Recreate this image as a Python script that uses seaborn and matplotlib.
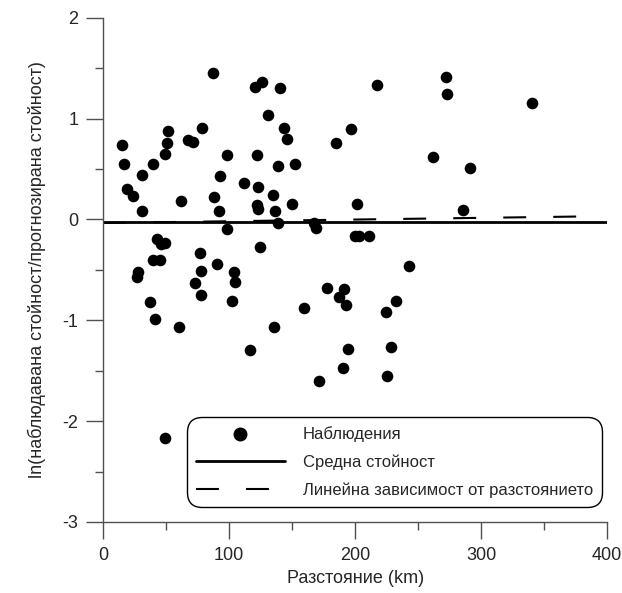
import numpy as np
import pandas as pd
import matplotlib
matplotlib.use("Agg")
import matplotlib.pyplot as plt
import seaborn as sns

# observed points: distance (km) and ln(observed/predicted)
dist = [14.6, 16.4, 18.6, 23.6, 30.5, 30.5, 39.5, 48.7, 50.6, 51.6,
        61.5, 67.3, 71.0, 78.6, 86.9, 98.5, 92.7, 87.7, 91.6, 98.5,
        111.5, 120.5, 125.8, 121.8, 122.6, 121.8, 122.6, 130.8, 134.5,
        140.6, 143.5, 145.7, 138.8, 152.5, 136.6, 149.6, 138.5, 167.0,
        169.0, 200.0, 202.9, 211.3, 184.8, 196.5, 217.4, 201.5,
        124.5, 242.6, 177.7, 190.9, 187.5, 192.8, 232.5, 224.5, 159.7,
        135.3, 194.4, 228.5, 190.6, 225.3, 171.6,
        42.4, 45.6, 49.0, 39.2, 44.8, 76.6, 90.5, 27.8, 26.5, 77.8,
        103.6, 104.6, 72.6, 77.8, 102.5, 37.3, 40.8, 60.4, 116.5, 49.0,
        272.0, 273.0, 262.0, 291.5, 285.6, 340.5]
ratio = [0.74, 0.545, 0.30, 0.235, 0.44, 0.083, 0.55, 0.65, 0.76, 0.88,
         0.18, 0.79, 0.77, 0.91, 1.45, 0.64, 0.43, 0.22, 0.086, -0.095,
         0.36, 1.31, 1.36, 0.64, 0.32, 0.14, 0.106, 1.04, 0.245,
         1.30, 0.91, 0.80, 0.53, 0.55, 0.086, 0.15, -0.036, -0.04,
         -0.09, -0.16, -0.16, -0.16, 0.76, 0.90, 1.335, 0.15,
         -0.27, -0.46, -0.68, -0.69, -0.77, -0.85, -0.81, -0.915, -0.88,
         -1.07, -1.28, -1.265, -1.47, -1.55, -1.60,
         -0.19, -0.245, -0.23, -0.40, -0.40, -0.33, -0.44, -0.52, -0.57, -0.515,
         -0.52, -0.62, -0.635, -0.75, -0.81, -0.82, -0.99, -1.07, -1.29, -2.17,
         1.41, 1.24, 0.62, 0.51, 0.095, 1.155]

# mean value line and linear trend with distance
mean_x = [0, 400]
mean_y = [-0.025, -0.025]
trend_x = [0, 385]
trend_y = [-0.035, 0.03]

sns.set_style("ticks")
plt.rcParams["font.family"] = ["Liberation Sans", "DejaVu Sans"]
plt.rcParams["axes.unicode_minus"] = False

fig = plt.figure(figsize=(6.22, 5.93), dpi=100)
ax = fig.add_axes([103.3 / 622, 1 - 522 / 593, (607 - 103.3) / 622, (522 - 17.7) / 593])

df = pd.DataFrame({"x": dist, "y": ratio})
sns.scatterplot(data=df, x="x", y="y", ax=ax, color="black", s=70,
                edgecolor="black", linewidth=0, label="Наблюдения", zorder=3)
sns.lineplot(x=mean_x, y=mean_y, ax=ax, color="black", lw=2,
             label="Средна стойност", zorder=2)
sns.lineplot(x=trend_x, y=trend_y, ax=ax, color="black", lw=1.5,
             linestyle=(0, (11, 13)), label="Линейна зависимост от разстоянието",
             zorder=2)

ax.set_xlim(0, 400)
ax.set_ylim(-3, 2)
ax.set_xticks([0, 100, 200, 300, 400])
ax.set_yticks([-3, -2, -1, 0, 1, 2])
ax.set_xticks(np.arange(50, 400, 100), minor=True)
ax.set_yticks(np.arange(-2.5, 2, 1), minor=True)
ax.tick_params(which="major", length=12, width=1, color="#505050",
               labelsize=13, pad=6)
ax.tick_params(which="minor", length=6, width=1, color="#505050")
for s in ["top", "right"]:
    ax.spines[s].set_visible(False)
for s in ["left", "bottom"]:
    ax.spines[s].set_color("#505050")
    ax.spines[s].set_linewidth(1)

ax.set_xlabel("Разстояние (km)", fontsize=13, labelpad=4)
ax.set_ylabel("ln(наблюдавана стойност/прогнозирана стойност)", fontsize=13,
              labelpad=12)

leg = ax.legend(loc="lower left", bbox_to_anchor=(187 / 622, 1 - 507 / 593),
                bbox_transform=fig.transFigure, borderaxespad=0, fontsize=12,
                frameon=True, fancybox=True, edgecolor="black", framealpha=1,
                handlelength=5.3, handletextpad=1.1, labelspacing=0.75,
                borderpad=0.55, markerscale=1.2)
leg.get_frame().set_linewidth(1)
leg.get_frame().set_boxstyle("round", pad=0, rounding_size=0.9)

fig.savefig("out.png", dpi=100)
